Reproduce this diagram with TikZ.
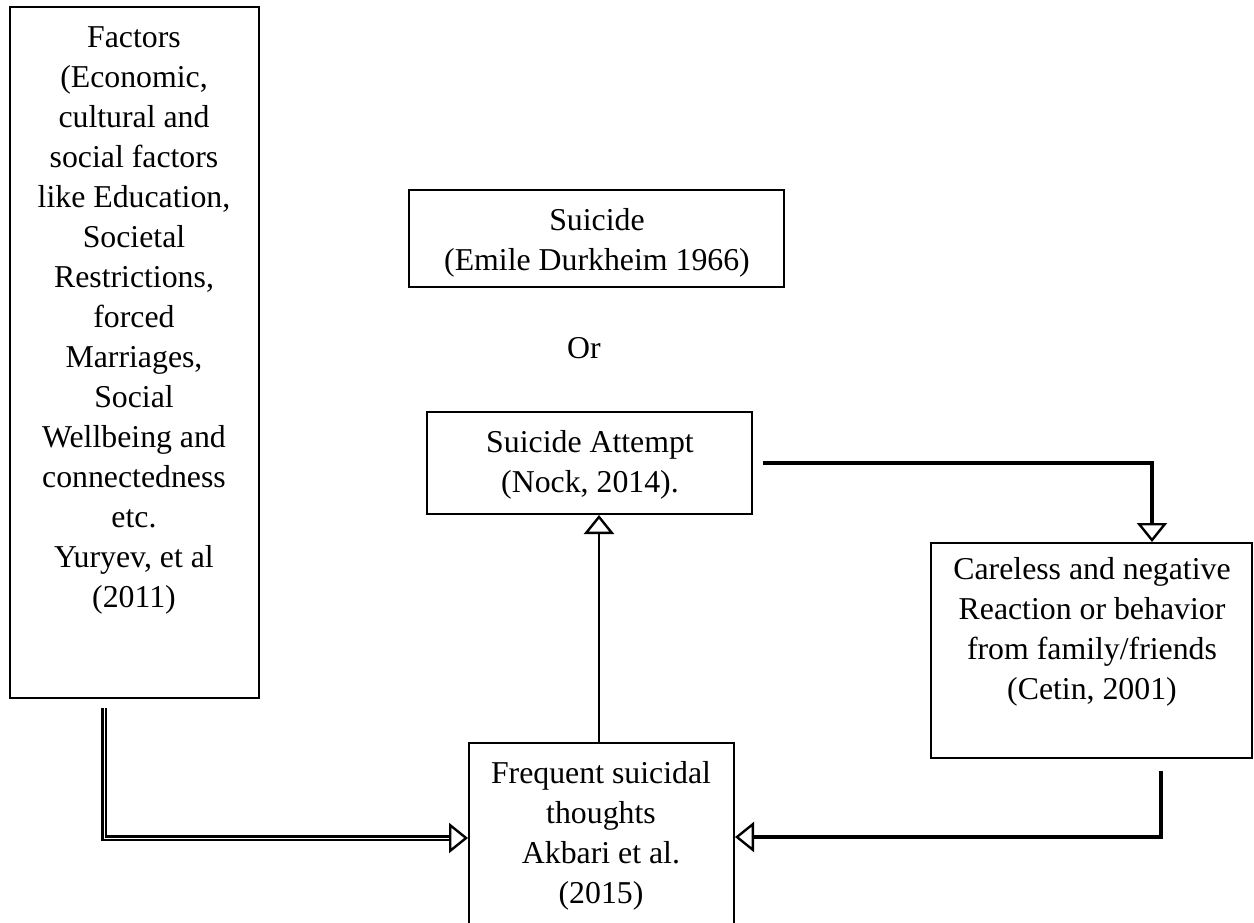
\documentclass[tikz,border=0pt]{standalone}
\usepackage{fontspec}
\setmainfont{Liberation Serif}
\usetikzlibrary{arrows.meta,fit}
\begin{document}
\begin{tikzpicture}[x=0.5pt,y=-0.5pt,
  box/.style={draw, line width=1pt, inner sep=0pt},
  txt/.style={align=center, font=\fontsize{15.9}{20}\selectfont, inner sep=0pt, anchor=base},
  opentip/.style={-{Triangle[open,length=9.5pt,width=15pt,line width=1.2pt]}},
  thickline/.style={line width=2.3pt},
  dbl/.style={line width=1.1pt, double, double distance=0.5pt}]
\useasboundingbox (0,0) rectangle (1254,922);
\clip (0,0) rectangle (1254,922);
% boxes
\node[box, fit={(10,7) (259,698)}] (factors) {};
\node[box, fit={(409,190) (784,287)}] (suicide) {};
\node[box, fit={(427,412) (752,514)}] (attempt) {};
\node[box, fit={(931,543) (1252,758)}] (careless) {};
\node[box, fit={(469,743) (734,940)}] (freq) {};
% texts (anchor = baseline of last line)
\node[txt] (tfactors) at (134,607) {Factors\\(Economic,\\cultural and\\social factors\\like Education,\\Societal\\Restrictions,\\forced\\Marriages,\\Social\\Wellbeing and\\connectedness\\etc.\\Yuryev, et al\\(2011)};
\node[txt] (tsuicide) at (597,270) {Suicide\\(Emile Durkheim 1966)};
\node[txt] (tor) at (584,358) {Or};
\node[txt] (tattempt) at (590,492) {Suicide Attempt\\(Nock, 2014).};
\node[txt] (tcareless) at (1092,699) {Careless and negative\\Reaction or behavior\\from family/friends\\(Cetin, 2001)};
\node[txt] (tfreq) at (601,903) {Frequent suicidal\\thoughts\\Akbari et al.\\(2015)};
% connectors
\coordinate (lstart) at (104,708);
\coordinate (lturn) at (104,838);
\coordinate (ltipbase) at (450,838);
\draw[dbl] (lstart) -- (lturn) -- (ltipbase);
\draw[opentip] (ltipbase) -- (freq.west |- lturn);
\coordinate (upx) at (599,0);
\draw[line width=1.2pt, opentip] (upx |- freq.north) -- (upx |- attempt.south);
\coordinate (astart) at (763,463);
\coordinate (aend) at (1152,0);
\draw[thickline, opentip] (astart) -| (aend |- careless.north);
\coordinate (rstart) at (1161,771);
\coordinate (rturn) at (1161,837);
\draw[thickline, opentip] (rstart) -- (rturn) -- (freq.east |- rturn);
\end{tikzpicture}
\end{document}
